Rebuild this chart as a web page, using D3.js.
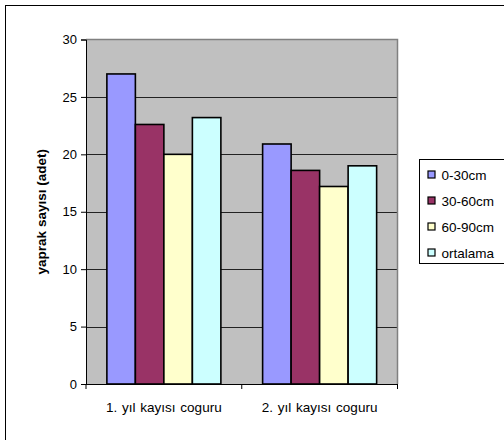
<!DOCTYPE html>
<html>
<head>
<meta charset="utf-8">
<script src="https://cdn.jsdelivr.net/npm/d3@7"></script>
<style>
  html, body { margin: 0; padding: 0; background: #fff; }
  svg { display: block; font-family: Arial, "Liberation Sans", sans-serif; }
</style>
</head>
<body>
<svg id="chart" width="504" height="440"></svg>
<script>
// Leaf counts per soil depth, for two years of apricot cuttings
const categories = ["1. yıl kayısı coguru", "2. yıl kayısı coguru"];
const seriesNames = ["0-30cm", "30-60cm", "60-90cm", "ortalama"];
const series0to30 = [27.0, 20.9];
const series30to60 = [22.6, 18.6];
const series60to90 = [20.0, 17.2];
const seriesMean = [23.2, 19.0];
const yTicks = [0, 5, 10, 15, 20, 25, 30];
const colors = ["#9999FF", "#993366", "#FFFFCC", "#CCFFFF"];

const seriesValues = [series0to30, series30to60, series60to90, seriesMean];

const svg = d3.select("#chart");

// outer chart frame (left and top edges visible inside the window)
svg.append("rect")
  .attr("x", 5.5).attr("y", 5.5)
  .attr("width", 520).attr("height", 460)
  .attr("fill", "#fff").attr("stroke", "#000").attr("stroke-width", 1);

const plot = { left: 86, right: 397.5, top: 39.5, bottom: 384 };

const x0 = d3.scaleBand()
  .domain(categories)
  .range([plot.left, plot.right])
  .paddingInner(0.268).paddingOuter(0.134);

const x1 = d3.scaleBand()
  .domain(seriesNames)
  .range([0, x0.bandwidth()]);

const y = d3.scaleLinear().domain([0, 30]).range([plot.bottom, plot.top]);

// plot area background
svg.append("rect")
  .attr("x", plot.left).attr("y", plot.top)
  .attr("width", plot.right - plot.left).attr("height", plot.bottom - plot.top)
  .attr("fill", "#C0C0C0");

// horizontal gridlines
svg.append("g")
  .selectAll("line")
  .data(yTicks.filter(t => t > 0 && t < 30))
  .join("line")
  .attr("x1", plot.left).attr("x2", plot.right)
  .attr("y1", d => Math.round(y(d)) + 0.5).attr("y2", d => Math.round(y(d)) + 0.5)
  .attr("stroke", "#222").attr("stroke-width", 1);

// plot area border, top and right
svg.append("path")
  .attr("d", `M${plot.left},${plot.top} H${plot.right} V${plot.bottom}`)
  .attr("fill", "none").attr("stroke", "#808080").attr("stroke-width", 1.5);

// bars
const groups = svg.append("g")
  .selectAll("g")
  .data(categories)
  .join("g")
  .attr("transform", d => `translate(${x0(d)},0)`);

groups.selectAll("rect")
  .data((d, i) => seriesNames.map((s, j) => ({ s, j, v: seriesValues[j][i] })))
  .join("rect")
  .attr("x", d => x1(d.s))
  .attr("y", d => y(d.v))
  .attr("width", x1.bandwidth())
  .attr("height", d => y(0) - y(d.v))
  .attr("fill", d => colors[d.j])
  .attr("stroke", "#000").attr("stroke-width", 1.6);

// y axis
const yAxis = d3.axisLeft(y).tickValues(yTicks).tickSize(5).tickPadding(4);
const gy = svg.append("g")
  .attr("transform", `translate(${plot.left},0)`)
  .call(yAxis);
gy.select(".domain").attr("stroke", "#000");
gy.selectAll(".tick line").attr("stroke", "#000");
gy.selectAll("text").attr("font-size", 13).attr("fill", "#000")
  .attr("font-family", "Arial, 'Liberation Sans', sans-serif");

// x axis with ticks between categories
const xEdges = d3.scaleLinear().domain([0, categories.length]).range([plot.left, plot.right]);
const gx = svg.append("g").attr("transform", `translate(0,${plot.bottom})`);
gx.append("line")
  .attr("x1", plot.left).attr("x2", plot.right)
  .attr("y1", 0.5).attr("y2", 0.5)
  .attr("stroke", "#000").attr("stroke-width", 1.2);
gx.selectAll("line.tk")
  .data(d3.range(categories.length + 1))
  .join("line")
  .attr("class", "tk")
  .attr("x1", d => xEdges(d)).attr("x2", d => xEdges(d))
  .attr("y1", 0).attr("y2", 5)
  .attr("stroke", "#000");
gx.selectAll("text")
  .data(categories)
  .join("text")
  .attr("x", d => x0(d) + x0.bandwidth() / 2)
  .attr("y", 28)
  .attr("text-anchor", "middle")
  .attr("font-size", 13.5)
  .attr("word-spacing", 1)
  .attr("fill", "#000")
  .text(d => d);

// y axis title
svg.append("text")
  .attr("transform", `translate(46,${(plot.top + plot.bottom) / 2}) rotate(-90)`)
  .attr("text-anchor", "middle")
  .attr("font-size", 13.5)
  .attr("font-weight", "bold")
  .text("yaprak sayısı (adet)");

// legend
const legend = svg.append("g").attr("transform", "translate(419.5,159.5)");
legend.append("rect")
  .attr("width", 86).attr("height", 104)
  .attr("fill", "#fff").attr("stroke", "#000");
const items = legend.selectAll("g")
  .data(seriesNames)
  .join("g")
  .attr("transform", (d, i) => `translate(0,${15 + i * 26})`);
items.append("rect")
  .attr("x", 8.5).attr("y", -3.5)
  .attr("width", 7).attr("height", 7)
  .attr("fill", (d, i) => colors[i])
  .attr("stroke", "#000").attr("stroke-width", 1.2);
items.append("text")
  .attr("x", 22).attr("y", 5)
  .attr("font-size", 13.5)
  .text(d => d);
</script>
</body>
</html>
